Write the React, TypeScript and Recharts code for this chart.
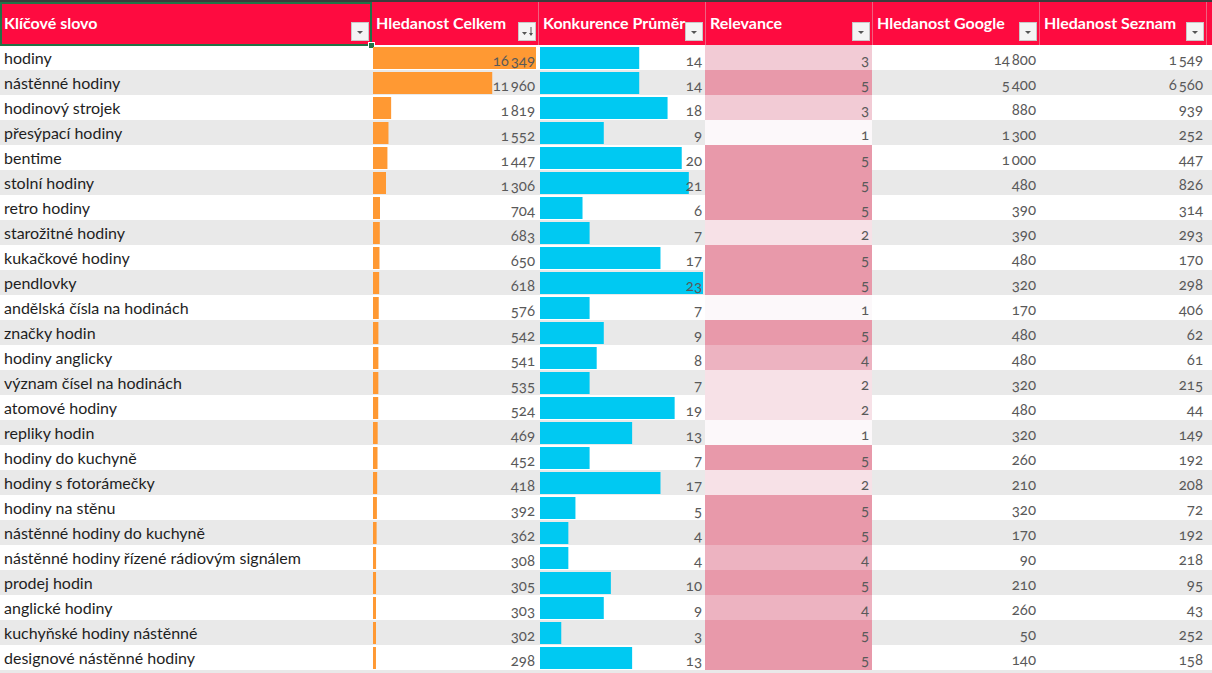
import { BarChart, Bar, XAxis, YAxis, LabelList } from 'recharts';

const keywords = [
  'hodiny', 'nástěnné hodiny', 'hodinový strojek', 'přesýpací hodiny', 'bentime',
  'stolní hodiny', 'retro hodiny', 'starožitné hodiny', 'kukačkové hodiny', 'pendlovky',
  'andělská čísla na hodinách', 'značky hodin', 'hodiny anglicky', 'význam čísel na hodinách', 'atomové hodiny',
  'repliky hodin', 'hodiny do kuchyně', 'hodiny s fotorámečky', 'hodiny na stěnu', 'nástěnné hodiny do kuchyně',
  'nástěnné hodiny řízené rádiovým signálem', 'prodej hodin', 'anglické hodiny', 'kuchyňské hodiny nástěnné', 'designové nástěnné hodiny',
];
const searchTotal = [16349, 11960, 1819, 1552, 1447, 1306, 704, 683, 650, 618, 576, 542, 541, 535, 524, 469, 452, 418, 392, 362, 308, 305, 303, 302, 298];
const competition = [14, 14, 18, 9, 20, 21, 6, 7, 17, 23, 7, 9, 8, 7, 19, 13, 7, 17, 5, 4, 4, 10, 9, 3, 13];
const relevance = [3, 5, 3, 1, 5, 5, 5, 2, 5, 5, 1, 5, 4, 2, 2, 1, 5, 2, 5, 5, 4, 5, 4, 5, 5];
const searchGoogle = [14800, 5400, 880, 1300, 1000, 480, 390, 390, 480, 320, 170, 480, 480, 320, 480, 320, 260, 210, 320, 170, 90, 210, 260, 50, 140];
const searchSeznam = [1549, 6560, 939, 252, 447, 826, 314, 293, 170, 298, 406, 62, 61, 215, 44, 149, 192, 208, 72, 192, 218, 95, 43, 252, 158];
const headers = ['Klíčové slovo', 'Hledanost Celkem', 'Konkurence Průměr', 'Relevance', 'Hledanost Google', 'Hledanost Seznam', ''];

const rows = keywords.map((keyword, i) => ({
  keyword,
  total: searchTotal[i],
  competition: competition[i],
  relevance: relevance[i],
  google: searchGoogle[i],
  seznam: searchSeznam[i],
}));

const ROW_H = 25;
const TOP = 45;
const COL_X = [0, 371, 538, 705, 872, 1039, 1206];
const COL_W = [371, 167, 167, 167, 167, 167, 60];
const FONT = 'Lato, "Open Sans", sans-serif';
const NUM_SIZE = 15;
const relevanceColors: Record<number, string> = {
  1: '#FCF8FA',
  2: '#F7E1E7',
  3: '#F2CBD5',
  4: '#EDB3C1',
  5: '#E899AA',
};

const fmt = (v: number) => String(v).replace(/\B(?=(\d{3})+(?!\d))/g, '\u2009');

const rightLabel = (right: number) => (props: any) => {
  const { y, height, value } = props;
  return (
    <text
      x={right}
      y={Number(y) + Number(height) / 2 + 1.5}
      textAnchor="end"
      dominantBaseline="central"
      fill="#595959"
      fontSize={NUM_SIZE}
      fontFamily={FONT}
      style={{ fontVariantNumeric: 'oldstyle-nums' }}
    >
      {fmt(Number(value))}
    </text>
  );
};

function DataBarColumn({ x, dataKey, max, color }: { x: number; dataKey: string; max: number; color: string }) {
  const w = 167;
  return (
    <div style={{ position: 'absolute', left: x, top: TOP }}>
      <BarChart
        width={w}
        height={rows.length * ROW_H}
        data={rows}
        layout="vertical"
        margin={{ top: 0, right: 2, bottom: 0, left: 2 }}
      >
        <XAxis type="number" hide domain={[0, max]} />
        <YAxis type="category" dataKey="keyword" hide />
        <Bar dataKey={dataKey} fill={color} barSize={22} isAnimationActive={false}>
          <LabelList dataKey={dataKey} content={rightLabel(w - 3)} />
        </Bar>
      </BarChart>
    </div>
  );
}

function DropButton({ x, sorted }: { x: number; sorted?: boolean }) {
  return (
    <div
      style={{
        position: 'absolute', left: x, top: 22, width: 18, height: 19,
        background: '#F4F4F4', border: '1px solid #C8C8C8', boxSizing: 'border-box',
      }}
    >
      <svg width={18} height={19} style={{ position: 'absolute', left: -1, top: -1 }}>
        <polygon points={sorted ? '4,10 9,10 6.5,13' : '6,9 12,9 9,12'} fill="#555" />
        {sorted && <line x1={13} y1={5} x2={13} y2={13} stroke="#555" strokeWidth={1} />}
        {sorted && <polygon points="11,11 15,11 13,14" fill="#555" />}
      </svg>
    </div>
  );
}

export default function App() {
  return (
    <div style={{ position: 'fixed', left: 0, top: 0, width: 1212, height: 673, overflow: 'hidden', background: '#fff', fontFamily: FONT }}>
      {/* row stripes */}
      {rows.concat([rows[0]]).map((_, i) => (
        <div
          key={'s' + i}
          style={{
            position: 'absolute', left: 0, top: TOP + i * ROW_H, width: 1212, height: ROW_H,
            background: i % 2 === 1 ? '#E9E9E9' : '#FFFFFF',
          }}
        />
      ))}

      {/* header */}
      <div style={{ position: 'absolute', left: 0, top: 0, width: 1212, height: 2, background: '#3C3C3C' }} />
      {headers.map((h, i) => (
        <div
          key={'h' + i}
          style={{
            position: 'absolute', left: COL_X[i], top: 2, width: COL_W[i], height: TOP - 2,
            background: '#FE0B40', borderLeft: i > 0 ? '1px solid #F06080' : 'none', boxSizing: 'border-box',
            color: '#fff', fontWeight: 700, fontSize: 16, lineHeight: '42px', paddingLeft: 4,
            whiteSpace: 'nowrap', overflow: 'hidden',
          }}
        >
          {h}
        </div>
      ))}
      {COL_X.slice(0, 6).map((x, i) => (
        <DropButton key={'b' + i} x={x + COL_W[i] - 20} sorted={i === 1} />
      ))}
      <div
        style={{
          position: 'absolute', left: 0, top: 2, width: 372, height: TOP - 1,
          border: '2px solid #217346', boxSizing: 'border-box',
        }}
      />
      <div style={{ position: 'absolute', left: 368, top: 42, width: 5, height: 5, background: '#217346', border: '1px solid #fff' }} />

      {/* keywords */}
      {rows.map((r, i) => (
        <div
          key={'k' + i}
          style={{
            position: 'absolute', left: 4, top: TOP + i * ROW_H, height: ROW_H, lineHeight: ROW_H + 'px',
            fontSize: 16, color: '#1E1E1E', whiteSpace: 'nowrap',
          }}
        >
          {r.keyword}
        </div>
      ))}

      {/* data bars */}
      <DataBarColumn x={COL_X[1]} dataKey="total" max={Math.max(...searchTotal)} color="#FF9933" />
      <DataBarColumn x={COL_X[2]} dataKey="competition" max={Math.max(...competition)} color="#00C9F2" />

      {/* relevance colour scale */}
      {rows.map((r, i) => (
        <div
          key={'r' + i}
          style={{
            position: 'absolute', left: COL_X[3], top: TOP + i * ROW_H, width: COL_W[3], height: ROW_H,
            background: relevanceColors[r.relevance], color: '#595959', fontSize: NUM_SIZE, textAlign: 'right',
            lineHeight: ROW_H + 3 + 'px', paddingRight: 3, boxSizing: 'border-box', fontVariantNumeric: 'oldstyle-nums',
          }}
        >
          {r.relevance}
        </div>
      ))}

      {/* plain number columns */}
      {rows.map((r, i) => [r.google, r.seznam].map((v, j) => (
        <div
          key={'n' + i + '-' + j}
          style={{
            position: 'absolute', left: COL_X[4 + j], top: TOP + i * ROW_H, width: COL_W[4 + j], height: ROW_H,
            color: '#595959', fontSize: NUM_SIZE, textAlign: 'right', lineHeight: ROW_H + 3 + 'px',
            paddingRight: 3, boxSizing: 'border-box', fontVariantNumeric: 'oldstyle-nums',
          }}
        >
          {fmt(v)}
        </div>
      )))}
    </div>
  );
}
